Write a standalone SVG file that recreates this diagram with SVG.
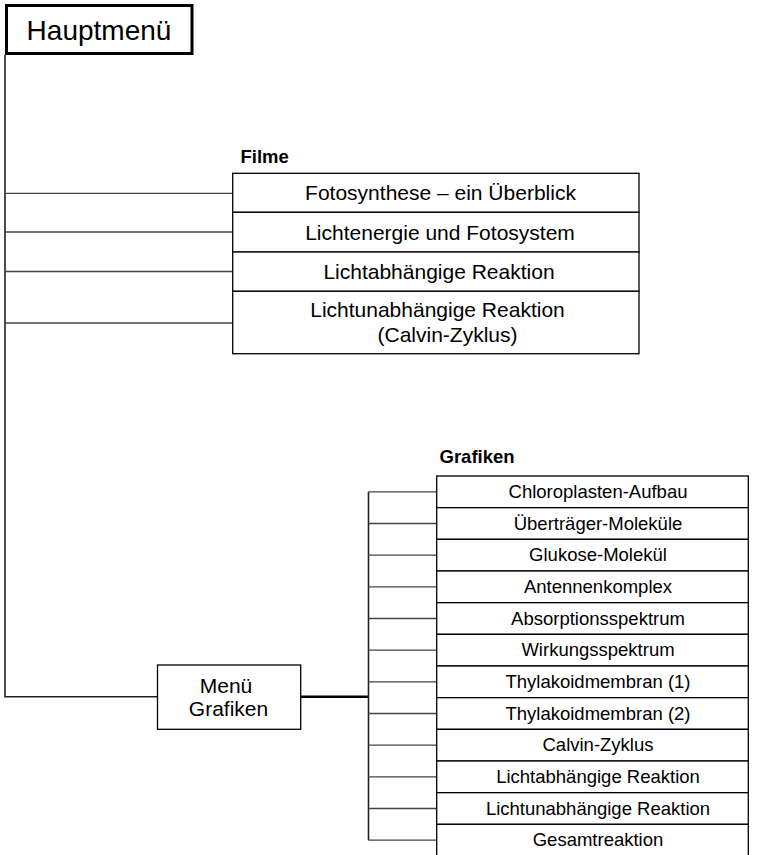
<svg xmlns="http://www.w3.org/2000/svg" width="764" height="855" viewBox="0 0 764 855">
<style>
text{font-family:"Liberation Sans",Arial,sans-serif;fill:#000;text-anchor:middle}
.box{fill:#fff;stroke:#000;stroke-width:1.3}
.f{font-size:21px}
.g{font-size:18.5px}
.lbl{font-size:18.5px;font-weight:bold;text-anchor:start}
.br{stroke:#444;stroke-width:1.3;fill:none}
.tr{stroke:#222;stroke-width:1.6;fill:none}
</style>
<rect width="764" height="855" fill="#fff"/>
<g id="connectors">
<polyline class="tr" points="5,55 5,696.7 157.5,696.7"/>
<line class="br" x1="5" y1="193.3" x2="232.7" y2="193.3"/>
<line class="br" x1="5" y1="232" x2="232.7" y2="232"/>
<line class="br" x1="5" y1="271.5" x2="232.7" y2="271.5"/>
<line class="br" x1="5" y1="323" x2="232.7" y2="323"/>
<line stroke="#000" stroke-width="2.5" x1="300.7" y1="696.7" x2="368.5" y2="696.7"/>
<line class="tr" x1="368.5" y1="491.8" x2="368.5" y2="840.2"/>
<line class="br" x1="368.5" y1="491.8" x2="436.7" y2="491.8"/>
<line class="br" x1="368.5" y1="523.5" x2="436.7" y2="523.5"/>
<line class="br" x1="368.5" y1="555.2" x2="436.7" y2="555.2"/>
<line class="br" x1="368.5" y1="586.8" x2="436.7" y2="586.8"/>
<line class="br" x1="368.5" y1="618.5" x2="436.7" y2="618.5"/>
<line class="br" x1="368.5" y1="650.2" x2="436.7" y2="650.2"/>
<line class="br" x1="368.5" y1="681.8" x2="436.7" y2="681.8"/>
<line class="br" x1="368.5" y1="713.5" x2="436.7" y2="713.5"/>
<line class="br" x1="368.5" y1="745.2" x2="436.7" y2="745.2"/>
<line class="br" x1="368.5" y1="776.8" x2="436.7" y2="776.8"/>
<line class="br" x1="368.5" y1="808.5" x2="436.7" y2="808.5"/>
<line class="br" x1="368.5" y1="840.2" x2="436.7" y2="840.2"/>
</g>
<g id="hauptmenu">
<rect x="6.5" y="5.5" width="185.5" height="48" fill="#fff" stroke="#000" stroke-width="3"/>
<text x="99" y="39.5" style="font-size:28px">Hauptmenü</text>
</g>
<g id="filme-label"><text class="lbl" x="240.5" y="162.5">Filme</text></g>
<g id="filme-1"><rect class="box" x="232.7" y="173.3" width="406.3" height="39"/><text class="f" x="440.5" y="200">Fotosynthese – ein Überblick</text></g>
<g id="filme-2"><rect class="box" x="232.7" y="212.3" width="406.3" height="39.7"/><text class="f" x="440" y="239.8">Lichtenergie und Fotosystem</text></g>
<g id="filme-3"><rect class="box" x="232.7" y="252" width="406.3" height="39.3"/><text class="f" x="439" y="279">Lichtabhängige Reaktion</text></g>
<g id="filme-4"><rect class="box" x="232.7" y="291.3" width="406.3" height="62.4"/><text class="f" x="437.5" y="316.7">Lichtunabhängige Reaktion</text><text class="f" x="447.5" y="341.7">(Calvin-Zyklus)</text></g>
<g id="menu-grafiken">
<rect class="box" x="157.5" y="665" width="143.2" height="64.3"/>
<text class="f" x="226" y="693.3">Menü</text>
<text class="f" x="228.5" y="716">Grafiken</text>
</g>
<g id="grafiken-label"><text class="lbl" x="439.5" y="463.3">Grafiken</text></g>
<g id="g1"><rect class="box" x="436.7" y="476" width="311.6" height="31.67"/><text class="g" x="598" y="497.8">Chloroplasten-Aufbau</text></g>
<g id="g2"><rect class="box" x="436.7" y="507.67" width="311.6" height="31.67"/><text class="g" x="598" y="529.5">Überträger-Moleküle</text></g>
<g id="g3"><rect class="box" x="436.7" y="539.33" width="311.6" height="31.67"/><text class="g" x="598" y="561.2">Glukose-Molekül</text></g>
<g id="g4"><rect class="box" x="436.7" y="571" width="311.6" height="31.67"/><text class="g" x="598" y="592.8">Antennenkomplex</text></g>
<g id="g5"><rect class="box" x="436.7" y="602.67" width="311.6" height="31.67"/><text class="g" x="598" y="624.5">Absorptionsspektrum</text></g>
<g id="g6"><rect class="box" x="436.7" y="634.33" width="311.6" height="31.67"/><text class="g" x="598" y="656.2">Wirkungsspektrum</text></g>
<g id="g7"><rect class="box" x="436.7" y="666" width="311.6" height="31.67"/><text class="g" x="598" y="687.8">Thylakoidmembran (1)</text></g>
<g id="g8"><rect class="box" x="436.7" y="697.67" width="311.6" height="31.67"/><text class="g" x="598" y="719.5">Thylakoidmembran (2)</text></g>
<g id="g9"><rect class="box" x="436.7" y="729.33" width="311.6" height="31.67"/><text class="g" x="598" y="751.2">Calvin-Zyklus</text></g>
<g id="g10"><rect class="box" x="436.7" y="761" width="311.6" height="31.67"/><text class="g" x="598" y="782.8">Lichtabhängige Reaktion</text></g>
<g id="g11"><rect class="box" x="436.7" y="792.67" width="311.6" height="31.67"/><text class="g" x="598" y="814.5">Lichtunabhängige Reaktion</text></g>
<g id="g12"><rect class="box" x="436.7" y="824.33" width="311.6" height="31.67"/><text class="g" x="598" y="846.2">Gesamtreaktion</text></g>
</svg>
